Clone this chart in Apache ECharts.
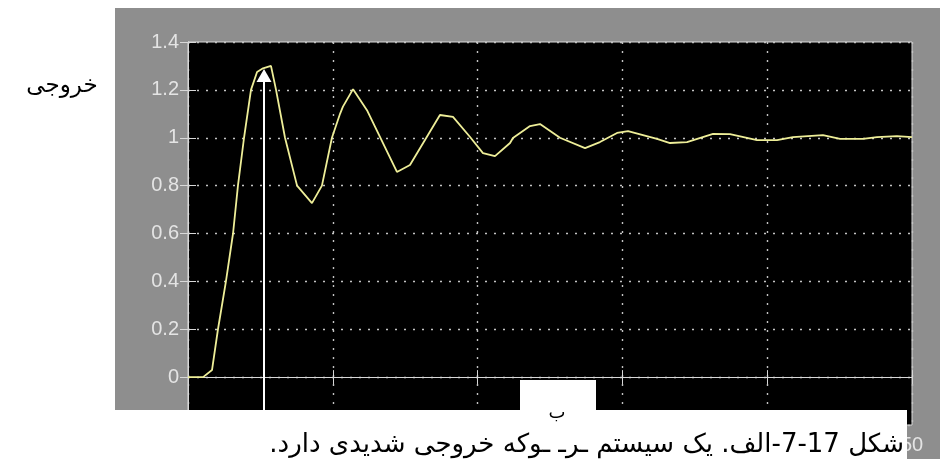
<!DOCTYPE html>
<html><head><meta charset="utf-8">
<script src="https://cdn.jsdelivr.net/npm/echarts@6/dist/echarts.min.js"></script>
<style>html,body{margin:0;padding:0;background:#fff}#c{width:940px;height:459px}</style>
</head><body><div id="c"></div>
<script>
const timeValues = [0, 1.04, 1.66, 2.07, 2.62, 3.11, 3.45, 3.87, 4.35, 4.77, 5.18, 5.73, 6.08, 6.70, 7.53, 8.56, 9.25, 9.94, 10.50, 10.70, 11.40, 12.36, 14.43, 15.33, 17.40, 18.30, 19.48, 20.37, 21.20, 22.24, 22.44, 23.62, 24.31, 25.69, 27.42, 28.45, 29.63, 30.39, 31.42, 32.39, 33.29, 34.46, 36.26, 37.43, 39.30, 40.68, 41.78, 43.85, 45.03, 46.62, 47.58, 48.96, 50];
const outputValues = [0, 0, 0.03, 0.2, 0.4, 0.6, 0.8, 1.0, 1.2, 1.275, 1.29, 1.30, 1.2, 1.0, 0.8, 0.727, 0.8, 1.0, 1.10, 1.13, 1.203, 1.115, 0.857, 0.886, 1.095, 1.087, 1.003, 0.936, 0.923, 0.978, 0.999, 1.049, 1.057, 1.0, 0.957, 0.982, 1.02, 1.028, 1.011, 0.995, 0.978, 0.982, 1.016, 1.015, 0.99, 0.99, 1.003, 1.011, 0.995, 0.995, 1.003, 1.007, 1.003];
const xTickLabels = ['0', '10', '20', '30', '40', '50'];
const yTickLabels = ['', '0', '0.2', '0.4', '0.6', '0.8', '1', '1.2', '1.4'];
const peakArrow = { t: 5.25, from: -0.2, to: 1.26 };
const yAxisTitle = 'خروجی';
const boxLabel = 'ب';
const captionText = 'شکل 17-7-الف. یک سیستم ـرـ ـوکه خروجی شدیدی دارد.';

const chart = echarts.init(document.getElementById('c'));
const gridColor = '#c4c4c4';
const axisColor = '#d8d8d8';
const labelFont = { color: '#e4e4e4', fontSize: 20, fontFamily: 'Liberation Sans, Arial, sans-serif' };
chart.setOption({
  backgroundColor: '#ffffff',
  animation: false,
  grid: { left: 188, right: 28, top: 42, bottom: 34, show: true, backgroundColor: '#000000', borderColor: axisColor, borderWidth: 1 },
  xAxis: [{
    type: 'value', min: 0, max: 50, interval: 10, position: 'bottom',
    axisLine: { show: true, lineStyle: { color: axisColor } },
    axisTick: { show: true, inside: true, length: 7, lineStyle: { color: axisColor } },
    axisLabel: Object.assign({ margin: 10, formatter: (v, i) => xTickLabels[i] }, labelFont),
    splitLine: { show: true, lineStyle: { color: gridColor, type: [2, 7], width: 1.4 } }
  }, {
    type: 'value', min: 0, max: 50, interval: 10, position: 'top',
    axisLine: { show: true, lineStyle: { color: axisColor } },
    axisTick: { show: true, inside: true, length: 7, lineStyle: { color: axisColor } },
    axisLabel: { show: false }, splitLine: { show: false }
  }],
  yAxis: [{
    type: 'value', min: -0.2, max: 1.4, interval: 0.2, position: 'left',
    axisLine: { show: true, lineStyle: { color: axisColor } },
    axisTick: { show: true, inside: true, length: 8, lineStyle: { color: axisColor } },
    axisLabel: Object.assign({ margin: 9, formatter: (v, i) => yTickLabels[i] }, labelFont),
    splitLine: { show: true, lineStyle: { color: gridColor, type: [2, 7], width: 1.4 } }
  }, {
    type: 'value', min: -0.2, max: 1.4, interval: 0.2, position: 'right',
    axisLine: { show: true, lineStyle: { color: axisColor } },
    axisTick: { show: true, inside: true, length: 8, lineStyle: { color: axisColor } },
    axisLabel: { show: false }, splitLine: { show: false }
  }],
  series: [{
    type: 'line', xAxisIndex: 0, yAxisIndex: 0,
    data: timeValues.map((t, i) => [t, outputValues[i]]),
    showSymbol: false, symbol: 'none',
    lineStyle: { color: '#eeee98', width: 1.8 },
    z: 5,
    markLine: {
      silent: true, symbol: ['none', 'triangle'], symbolSize: [15, 13],
      label: { show: false },
      lineStyle: { color: '#ffffff', width: 2, type: 'solid' },
      data: [[{ coord: [peakArrow.t, peakArrow.from] }, { coord: [peakArrow.t, peakArrow.to] }]]
    }
  }],
  graphic: [
    { type: 'rect', z: -100, silent: true, shape: { x: 115, y: 8, width: 825, height: 451 }, style: { fill: '#8e8e8e' } },
    { type: 'rect', z: 100, silent: true, shape: { x: 0, y: 410, width: 907, height: 49 }, style: { fill: '#ffffff' } },
    { type: 'rect', z: 100, silent: true, shape: { x: 520, y: 380, width: 76, height: 31 }, style: { fill: '#ffffff' } },
    { type: 'text', z: 101, silent: true, style: { x: 62, y: 86, text: yAxisTitle, fill: '#000', fontSize: 23, fontFamily: 'DejaVu Sans, sans-serif', align: 'center', verticalAlign: 'middle' } },
    { type: 'text', z: 101, silent: true, style: { x: 557, y: 413, text: boxLabel, fill: '#000', fontSize: 18, fontFamily: 'DejaVu Sans, sans-serif', align: 'center', verticalAlign: 'middle' } },
    { type: 'text', z: 101, silent: true, style: { x: 904, y: 445, text: '\u202B' + captionText + '\u202C', fill: '#000', fontSize: 26, fontFamily: 'DejaVu Sans, sans-serif', align: 'right', verticalAlign: 'middle' } }
  ]
});
</script></body></html>
